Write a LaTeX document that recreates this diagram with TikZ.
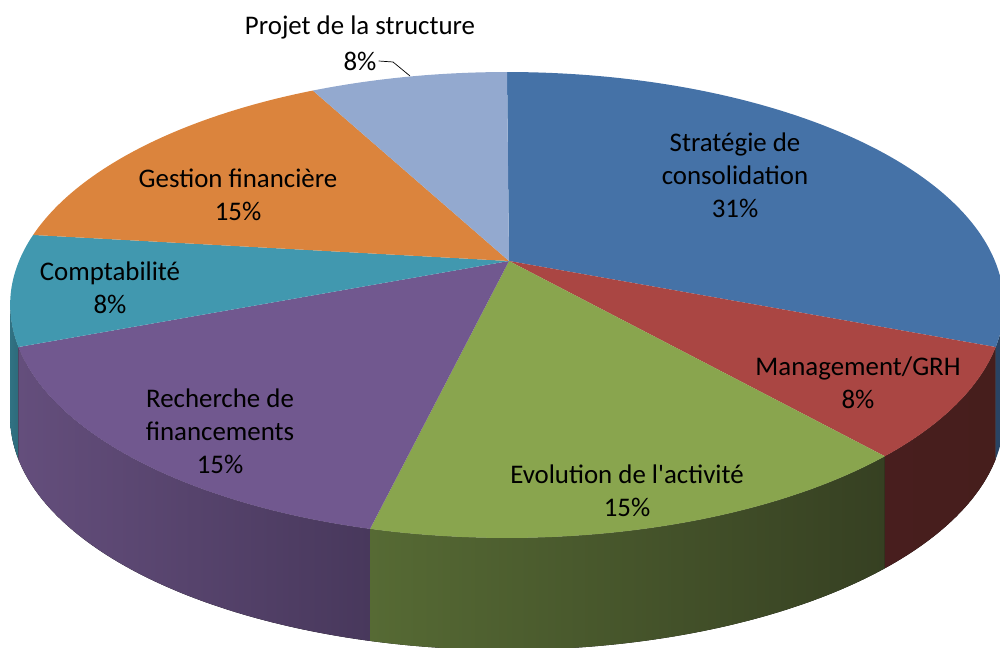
\documentclass[tikz,border=0pt]{standalone}
\usepackage{fontspec}
\setmainfont{Carlito}[Ligatures=TeXOff]
\usepackage{tikz}
\usetikzlibrary{calc}

\definecolor{strat_col}{RGB}{69,114,167}
\definecolor{mgmt_col}{RGB}{170,70,67}
\definecolor{evol_col}{RGB}{137,165,78}
\definecolor{rech_col}{RGB}{113,88,143}
\definecolor{compta_col}{RGB}{65,152,175}
\definecolor{gest_col}{RGB}{219,132,61}
\definecolor{proj_col}{RGB}{147,169,207}

\begin{document}
\begin{tikzpicture}[x=0.02cm, y=0.02cm,
        rim/.style={x radius=9.94cm, y radius=4.66cm},
        label_style/.style={align=center, inner sep=1pt, font=\fontsize{15.3}{18.7}\selectfont},
        leader_style/.style={draw=black, thin}]

        \useasboundingbox (0,0) rectangle (1000,648);
        \clip (0,0) rectangle (1000,648);

        \coordinate (ctr) at (507,343);
        \coordinate (apex) at (509,387);

        % points on the rim of the top face
        \path (ctr) ++(90:9.94cm and 4.66cm) coordinate (b_top);
        \path (ctr) ++(0:9.94cm and 4.66cm) coordinate (b_right);
        \path (ctr) ++(-10.4:9.94cm and 4.66cm) coordinate (b_strat);
        \path (ctr) ++(-40.5:9.94cm and 4.66cm) coordinate (b_mgmt);
        \path (ctr) ++(-106:9.94cm and 4.66cm) coordinate (b_evol);
        \path (ctr) ++(-169.6:9.94cm and 4.66cm) coordinate (b_rech);
        \path (ctr) ++(180:9.94cm and 4.66cm) coordinate (b_left);
        \path (ctr) ++(162.5:9.94cm and 4.66cm) coordinate (b_compta);
        \path (ctr) ++(113:9.94cm and 4.66cm) coordinate (b_gest);

        % side walls
        \fill [left color=compta_col!75!black, right color=compta_col!70!black] (b_left) arc[rim, start angle=180, end angle=190.4] -- ++(0,-112) arc[rim, start angle=190.4, end angle=180] -- cycle;

        \fill [left color={rgb,255:red,100;green,78;blue,124}, right color={rgb,255:red,72;green,56;blue,92}] (b_rech) arc[rim, start angle=190.4, end angle=254] -- ++(0,-112) arc[rim, start angle=254, end angle=190.4] -- cycle;

        \fill [left color={rgb,255:red,86;green,106;blue,52}, right color={rgb,255:red,54;green,64;blue,34}] (b_evol) arc[rim, start angle=-106, end angle=-40.5] -- ++(0,-112) arc[rim, start angle=-40.5, end angle=-106] -- cycle;

        \fill [left color={rgb,255:red,72;green,30;blue,30}, right color={rgb,255:red,70;green,30;blue,28}] (b_mgmt) arc[rim, start angle=-40.5, end angle=-10.4] -- ++(0,-112) arc[rim, start angle=-10.4, end angle=-40.5] -- cycle;

        \fill [strat_col!60!black] (b_strat) arc[rim, start angle=-10.4, end angle=0] -- ++(0,-112) arc[rim, start angle=0, end angle=-10.4] -- cycle;

        % top face
        \fill [strat_col] (apex) -- (b_top) arc[rim, start angle=90, end angle=-10.4] -- cycle;

        \fill [mgmt_col] (apex) -- (b_strat) arc[rim, start angle=-10.4, end angle=-40.5] -- cycle;

        \fill [evol_col] (apex) -- (b_mgmt) arc[rim, start angle=-40.5, end angle=-106] -- cycle;

        \fill [rech_col] (apex) -- (b_evol) arc[rim, start angle=-106, end angle=-169.6] -- cycle;

        \fill [compta_col] (apex) -- (b_rech) arc[rim, start angle=190.4, end angle=162.5] -- cycle;

        \fill [gest_col] (apex) -- (b_compta) arc[rim, start angle=162.5, end angle=113] -- cycle;

        \fill [proj_col] (apex) -- (b_gest) arc[rim, start angle=113, end angle=90] -- cycle;

        % labels
        \node [label_style] (strat_lbl) at (735,473) {Stratégie de\\consolidation\\31\%};

        \node [label_style] (mgmt_lbl) at (858,265.5) {Management/GRH\\8\%};

        \node [label_style] (evol_lbl) at (627,157.5) {Evolution de l'activité\\15\%};

        \node [label_style] (rech_lbl) at (220,217) {Recherche de\\financements\\15\%};

        \node [label_style] (compta_lbl) at (110,360.5) {Comptabilité\\8\%};

        \node [label_style] (gest_lbl) at (238,453.5) {Gestion financière\\15\%};

        \node [label_style] (proj_name) at (360,621) {Projet de la structure};

        \node [label_style] (proj_pct) at (360,587) {8\%};

        \coordinate (proj_bend) at (393,586);
        \coordinate (proj_rim) at (410,572);

        \draw [leader_style] (proj_pct.east) -- (proj_bend) -- (proj_rim);

\end{tikzpicture}
\end{document}
